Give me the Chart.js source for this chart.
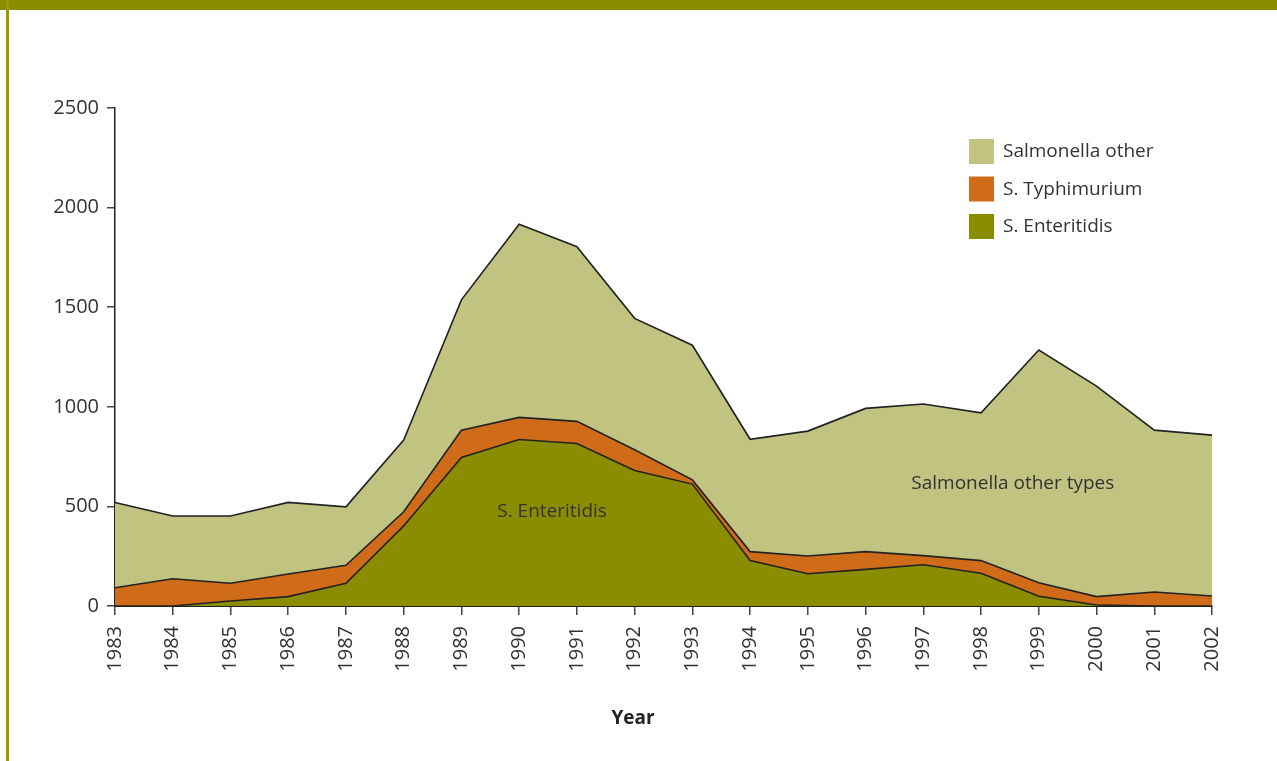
<!DOCTYPE html>
<html lang="en">
<head>
    <meta charset="UTF-8">
    <title>Salmonella cases by year</title>
    <script src="https://cdn.jsdelivr.net/npm/chart.js"></script>
    <style>
        html, body { margin: 0; padding: 0; background: #fff; }
        #frame { position: relative; width: 1277px; height: 761px; overflow: hidden; }
        #topBand { position: absolute; left: 0; top: 0; width: 1277px; height: 10px; background: #8b8d00; }
        #leftBand { position: absolute; left: 6px; top: 0; width: 3px; height: 761px; background: #989a00; }
        #chartBox { position: absolute; left: 0; top: 0; width: 1277px; height: 761px; }
    </style>
</head>
<body>
<div id="frame">
    <div id="chartBox"><canvas id="salmonellaChart"></canvas></div>
    <div id="topBand"></div>
    <div id="leftBand"></div>
</div>

<script>
    // data
    const years = ['1983', '1984', '1985', '1986', '1987', '1988', '1989', '1990', '1991', '1992',
                   '1993', '1994', '1995', '1996', '1997', '1998', '1999', '2000', '2001', '2002'];
    const enteritidis = [0, 0, 25, 47, 114, 402, 746, 836, 816, 680, 612, 228, 162, 184, 207, 164, 49, 5, 0, 0];
    const typhimurium = [92, 137, 89, 114, 90, 71, 136, 111, 111, 104, 21, 45, 89, 89, 46, 64, 68, 42, 70, 50];
    const otherTypes = [428, 315, 338, 359, 294, 360, 655, 969, 877, 660, 676, 564, 627, 719, 761, 742, 1168, 1057, 813, 808];
    const yTicks = [0, 500, 1000, 1500, 2000, 2500];

    const fontFamily = '"Open Sans", "Noto Sans", sans-serif';
    const textColor = '#333';
    const lineColor = '#222';

    const legendItems = [
        { label: 'Salmonella other', color: '#c1c381' },
        { label: 'S. Typhimurium', color: '#d06c19' },
        { label: 'S. Enteritidis', color: '#8b8d00' }
    ];

    const notes = [
        { text: 'S. Enteritidis', x: 7.57, y: 474 },
        { text: 'Salmonella other types', x: 15.55, y: 614 }
    ];

    // legend, labels inside the plot and the axis title
    const extras = {
        id: 'extras',
        afterDraw(chart) {
            const ctx = chart.ctx;
            const xs = chart.scales.x, ys = chart.scales.y;
            ctx.save();
            ctx.font = '19px ' + fontFamily;
            ctx.fillStyle = textColor;
            ctx.textAlign = 'center';
            ctx.textBaseline = 'middle';
            notes.forEach(n => {
                ctx.fillText(n.text, xs.getPixelForValue(n.x), ys.getPixelForValue(n.y));
            });

            ctx.textAlign = 'left';
            legendItems.forEach((item, i) => {
                const top = 139 + i * 37.5;
                ctx.fillStyle = item.color;
                ctx.fillRect(969, top, 25, 25);
                ctx.fillStyle = textColor;
                ctx.fillText(item.label, 1003, top + 13);
            });

            ctx.font = 'bold 19px ' + fontFamily;
            ctx.textAlign = 'center';
            ctx.fillStyle = '#222';
            ctx.fillText('Year', 633, 719);
            ctx.restore();
        }
    };

    const series = [
        { label: 'S. Enteritidis', data: enteritidis, color: '#8b8d00', fill: 'origin' },
        { label: 'S. Typhimurium', data: typhimurium, color: '#d06c19', fill: '-1' },
        { label: 'Salmonella other', data: otherTypes, color: '#c1c381', fill: '-1' }
    ];

    new Chart(document.getElementById('salmonellaChart'), {
        type: 'line',
        data: {
            labels: years,
            datasets: series.map(s => ({
                label: s.label,
                data: s.data,
                backgroundColor: s.color,
                borderColor: lineColor,
                borderWidth: 1.6,
                fill: s.fill,
                pointRadius: 0,
                tension: 0
            }))
        },
        options: {
            responsive: true,
            maintainAspectRatio: false,
            animation: false,
            layout: { padding: { left: 0, right: 65, top: 108, bottom: 0 } },
            plugins: {
                legend: { display: false },
                tooltip: { enabled: false }
            },
            scales: {
                x: {
                    offset: false,
                    grid: { drawOnChartArea: false, drawTicks: true, tickLength: 9, color: '#444', lineWidth: 1.5 },
                    border: { display: true, color: lineColor, width: 2 },
                    ticks: {
                        color: textColor,
                        font: { family: fontFamily, size: 20 },
                        minRotation: 90,
                        maxRotation: 90,
                        padding: 11,
                        autoSkip: false
                    },
                    afterFit(scale) { scale.height = 155; }
                },
                y: {
                    stacked: true,
                    min: 0,
                    max: 2500,
                    afterBuildTicks(scale) { scale.ticks = yTicks.map(v => ({ value: v })); },
                    grid: { drawOnChartArea: false, drawTicks: true, tickLength: 8, color: '#444', lineWidth: 1.5 },
                    border: { display: true, color: lineColor, width: 1.5 },
                    ticks: {
                        color: textColor,
                        font: { family: fontFamily, size: 20 },
                        padding: 8,
                        callback: v => String(v)
                    },
                    afterFit(scale) { scale.width = 115; }
                }
            }
        },
        plugins: [extras]
    });
</script>
</body>
</html>
